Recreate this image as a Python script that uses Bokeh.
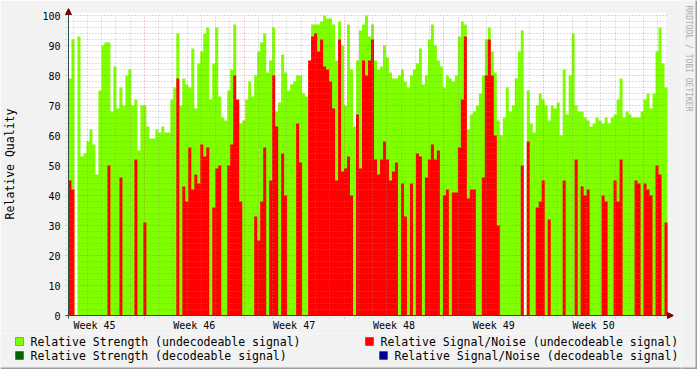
import math
from bokeh.plotting import figure
from bokeh.layouts import row, column
from bokeh.models import Range1d, FixedTicker, Label, BoxAnnotation, Arrow, NormalHead, Grid
from bokeh.embed import file_html
from bokeh.resources import INLINE

# ---- data (x in days since Monday of week 45) ----
start_day = 1.68
step_day = 0.21

strength_undecodeable = [
    79, 92, 0, 93, 53, 54, 58, 62, 57, 47, 75, 90, 91, 91, 68, 83, 69, 76, 70, 80,
    82, 70, 72, 55, 70, 70, 63, 59, 59, 62, 61, 63, 61,
    61, 72, 76, 94, 70, 79, 77, 76, 89, 69, 84, 88, 94, 96, 72, 84, 96, 73, 66, 65,
    75, 82, 97, 70, 64, 65, 72, 78, 73, 80, 88, 91, 94, 81, 85,
    96, 68, 71, 87, 81, 75, 77, 78, 80, 80, 74, 73, 68, 97, 97, 97, 98, 100, 99, 99,
    97, 85, 98, 90, 70, 97, 82, 63, 85, 95, 97, 100, 93,
    97, 85, 82, 83, 90, 86, 81, 79, 79, 80, 82, 78, 76, 80, 82, 84, 89, 77, 80, 92,
    97, 90, 85, 83, 76, 80, 79, 78, 80, 93, 98, 97, 62,
    67, 68, 70, 74, 80, 92, 96, 88, 81, 65, 60, 66, 76, 68, 70, 79, 88, 95, 0, 75,
    64, 61, 70, 74, 72, 70, 65, 70, 69, 71, 60, 82, 67,
    80, 94, 70, 68, 68, 66, 65, 63, 64, 66, 65, 64, 66, 64, 66, 67, 72, 79, 66, 68,
    67, 66, 66, 66, 68, 72, 74, 69, 74, 88, 96, 84, 76,
]
snr_undecodeable = [
    45, 42, 0, 0, 0, 0, 0, 0, 0, 0, 0, 0, 0, 50, 0, 0, 0, 46, 0, 0,
    0, 0, 52, 0, 0, 31, 0, 0, 0, 0, 0, 0, 0,
    0, 0, 0, 79, 0, 43, 38, 56, 42, 47, 44, 57, 53, 56, 0, 36, 49, 50, 0, 0,
    50, 57, 80, 72, 38, 0, 0, 0, 0, 33, 25, 38, 56, 0, 45,
    80, 63, 0, 54, 40, 0, 0, 0, 64, 51, 0, 0, 85, 93, 94, 88, 92, 83, 82, 78,
    69, 45, 92, 48, 49, 53, 40, 0, 67, 49, 85, 80, 85,
    92, 52, 47, 52, 58, 52, 45, 48, 51, 0, 44, 33, 0, 44, 0, 54, 53, 0, 46, 52,
    57, 52, 55, 0, 40, 42, 0, 41, 41, 56, 72, 93, 39,
    42, 42, 0, 0, 46, 80, 92, 80, 60, 30, 0, 0, 0, 0, 0, 0, 0, 50, 0, 58,
    0, 0, 36, 38, 45, 0, 32, 0, 0, 0, 0, 45, 0,
    0, 0, 52, 0, 43, 40, 42, 0, 0, 0, 0, 40, 38, 0, 0, 45, 38, 52, 0, 0,
    0, 0, 45, 44, 0, 44, 42, 40, 0, 50, 47, 0, 31,
]

week_labels = ["Week 45", "Week 46", "Week 47", "Week 48", "Week 49", "Week 50"]
week_centers = [3.5, 10.5, 17.5, 24.5, 31.5, 38.5]
week_starts = [7, 14, 21, 28, 35, 42]
day_lines = [d for d in range(2, 44) if d % 7 != 0]
y_labels = list(range(0, 101, 10))
y_major = list(range(0, 101, 10))
y_minor = [v for v in range(2, 101, 2) if v % 10 != 0]

legend_texts = [
    "Relative Strength (undecodeable signal)",
    "Relative Strength  (decodeable signal)",
    "Relative Signal/Noise (undecodeable signal)",
    "Relative Signal/Noise (decodeable signal)",
]
legend_colors = ["#7FFF00", "#006400", "#FF0000", "#000090"]

MONO = "DejaVu Sans Mono"
BG = "#F2F2F2"
AXIS_C = "#2C4D43"
ARROW_C = "#7F0000"


def no_align(fig):
    if "frame_align" in fig.properties():
        fig.frame_align = False


# ---- main chart geometry (pixels) ----
MW, MH = 681, 333
OX, OY = 67, 315                     # pixel of the origin (axes crossing)
FL, FR, FT, FB = 63, 673, 8, 319     # frame, a little larger than the graph area
DAYS_PER_PX = 0.07                   # 100 px per week
UNITS_PER_PX = 1.0 / 3.0             # 300 px per 100 units


def px2x(px):
    return start_day + (px - OX) * DAYS_PER_PX


def px2y(py):
    return (OY - py) * UNITS_PER_PX


p = figure(width=MW, height=MH,
           x_range=Range1d(px2x(FL), px2x(FR)), y_range=Range1d(px2y(FB), px2y(FT)),
           output_backend="svg", toolbar_location=None,
           min_border_left=FL, min_border_right=MW - FR, min_border_top=FT,
           min_border_bottom=MH - FB,
           background_fill_color=BG, border_fill_color=BG, outline_line_color=None)
p.title.visible = False
no_align(p)

# white canvas of the graph area
p.add_layout(BoxAnnotation(left=px2x(OX), right=px2x(666), bottom=0, top=px2y(12),
                           fill_color="white", fill_alpha=1, line_color=None, level="underlay"))

n = len(strength_undecodeable)
edges = [start_day + i * step_day for i in range(n + 1)]
p.varea_step(x=edges, y1=[0] * (n + 1), y2=strength_undecodeable + [strength_undecodeable[-1]],
             step_mode="after", fill_color="#7FFF00")
p.varea_step(x=edges, y1=[0] * (n + 1), y2=snr_undecodeable + [snr_undecodeable[-1]],
             step_mode="after", fill_color="#FF0000")

# grids drawn over the data (extending a few px beyond the axes, like rrdtool ticks)
p.xgrid.ticker = FixedTicker(ticks=week_starts, minor_ticks=day_lines)
p.ygrid.ticker = FixedTicker(ticks=y_major, minor_ticks=y_minor)
for g in (p.xgrid, p.ygrid):
    g.level = "guide"
    g.grid_line_color = "#DE3030"
    g.grid_line_alpha = 0.5
    g.grid_line_dash = "1 2"
    g.minor_grid_line_color = "#8F8F8F"
    g.minor_grid_line_alpha = 0.55
    g.minor_grid_line_dash = "1 2"
if "cross_bounds" in Grid.properties():
    p.xgrid.cross_bounds = (px2y(318), 100)
    p.ygrid.cross_bounds = (px2x(64), px2x(666))

# x axis (labels only; the axis line is drawn at y=0 below)
xa = p.xaxis[0]
xa.ticker = FixedTicker(ticks=week_centers)
xa.major_label_overrides = {c: l for c, l in zip(week_centers, week_labels)}
xa.major_tick_line_color = None
xa.minor_tick_line_color = None
xa.major_tick_out = 0
xa.major_tick_in = 0
xa.minor_tick_out = 0
xa.minor_tick_in = 0
xa.major_label_standoff = 0
xa.major_label_text_font = MONO
xa.major_label_text_font_size = "10px"
xa.major_label_text_color = "black"
xa.axis_line_color = None

# y axis
ya = p.yaxis[0]
ya.ticker = FixedTicker(ticks=y_labels)
ya.major_tick_out = 0
ya.major_tick_in = 0
ya.minor_tick_out = 0
ya.minor_tick_in = 0
ya.major_tick_line_color = None
ya.minor_tick_line_color = None
ya.major_label_standoff = 4
ya.major_label_text_font = MONO
ya.major_label_text_font_size = "10px"
ya.major_label_text_color = "black"
ya.axis_line_color = None
ya.axis_label = "Relative Quality"
ya.axis_label_text_font = MONO
ya.axis_label_text_font_size = "11.5px"
ya.axis_label_text_font_style = "normal"
ya.axis_label_text_color = "black"
ya.axis_label_standoff = 22

# axis lines with arrow heads
p.add_layout(Arrow(x_start=px2x(OX), y_start=px2y(318), x_end=px2x(OX), y_end=px2y(FT),
                   line_color=AXIS_C, line_width=1,
                   end=NormalHead(size=6, fill_color=ARROW_C, line_color=ARROW_C)))
p.add_layout(Arrow(x_start=px2x(64), y_start=0, x_end=px2x(FR), y_end=0,
                   line_color=AXIS_C, line_width=1,
                   end=NormalHead(size=6, fill_color=ARROW_C, line_color=ARROW_C)))

# ---- legend strip (pixel coordinates of the page) ----
LH = 369 - MH
lg = figure(width=MW, height=LH, x_range=Range1d(0, MW), y_range=Range1d(369, MH),
            output_backend="svg", toolbar_location=None, min_border=0,
            background_fill_color=BG, border_fill_color=BG, outline_line_color=None)
lg.axis.visible = False
lg.grid.visible = False
lg.title.visible = False
no_align(lg)
legend_pos = [(15, 30, 341), (15, 30, 355), (365, 380, 341), (379, 394, 355)]
for (bx, tx, ty), txt, col in zip(legend_pos, legend_texts, legend_colors):
    lg.add_layout(BoxAnnotation(left=bx, right=bx + 8, top=ty - 4, bottom=ty + 4,
                                fill_color=col, fill_alpha=1, line_color="black",
                                line_width=1))
    lg.add_layout(Label(x=tx, y=ty, text=txt, text_font=MONO, text_font_size="11.5px",
                        text_color="black", text_baseline="middle", text_align="left"))
lg.add_layout(BoxAnnotation(left=0, right=MW, top=367, bottom=369, fill_color="#9C9C9C",
                            fill_alpha=1, line_color=None))

# ---- watermark strip on the right ----
WW = 697 - MW
wm = figure(width=WW, height=369, x_range=Range1d(MW, 697), y_range=Range1d(369, 0),
            output_backend="svg", toolbar_location=None, min_border=0,
            background_fill_color=BG, border_fill_color=BG, outline_line_color=None)
wm.axis.visible = False
wm.grid.visible = False
wm.title.visible = False
no_align(wm)
wm.add_layout(Label(x=688, y=5, text="RRDTOOL / TOBI OETIKER", angle=-math.pi / 2,
                    text_font=MONO, text_font_size="8px", text_color="#ABABAB",
                    text_baseline="middle", text_align="left"))
wm.add_layout(BoxAnnotation(left=695, right=697, top=0, bottom=369, fill_color="#9C9C9C",
                            fill_alpha=1, line_color=None))
wm.add_layout(BoxAnnotation(left=MW, right=697, top=367, bottom=369, fill_color="#9C9C9C",
                            fill_alpha=1, line_color=None))

layout = row(column(p, lg, spacing=0), wm, spacing=0)
open("out.html", "w").write(file_html(layout, INLINE))
